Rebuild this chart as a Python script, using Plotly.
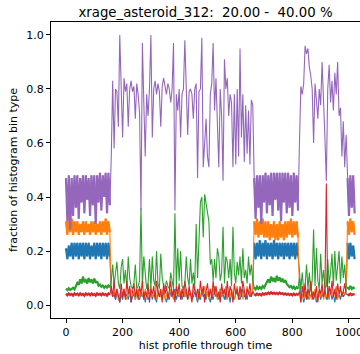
import plotly.graph_objects as go

# ---- data (hist profile index sampled every 5 profiles) ----
step = 5

purple_A = [0.47,0.31,0.48,0.28,0.47,0.33,0.48,0.36, 0.48,0.32,0.47,0.38,0.48,0.34,0.48,0.39,
            0.47,0.33,0.48,0.37,0.48,0.30,0.48,0.38, 0.49,0.35,0.48,0.40,0.49,0.34,0.49,0.37]
orange_A = [0.31,0.26,0.33,0.27,0.32,0.26,0.31,0.27, 0.31,0.26,0.30,0.27,0.31,0.26,0.31,0.27,
            0.30,0.26,0.31,0.27,0.31,0.26,0.30,0.27, 0.31,0.26,0.31,0.27,0.32,0.26,0.31,0.27]
blue_A = [0.21,0.17,0.22,0.18,0.23,0.17,0.23,0.18, 0.23,0.17,0.23,0.18,0.23,0.17,0.23,0.18,
          0.23,0.17,0.22,0.18,0.23,0.17,0.23,0.18, 0.23,0.17,0.23,0.18,0.23,0.17,0.23,0.18]
green_A = [0.060,0.055,0.062,0.056,0.060,0.064,0.058,0.070, 0.082,0.075,0.095,0.080,0.105,0.085,0.092,0.080,
           0.100,0.085,0.094,0.080,0.098,0.082,0.088,0.072, 0.076,0.068,0.072,0.064,0.070,0.065,0.072,0.066]
red_A = [0.042,0.036,0.043,0.037,0.041,0.035,0.043,0.038, 0.042,0.036,0.043,0.037,0.041,0.035,0.043,0.038,
         0.042,0.036,0.043,0.037,0.041,0.035,0.043,0.038, 0.042,0.036,0.043,0.037,0.041,0.035,0.043,0.038]

purple_B = [0.55,0.83,0.58,0.80,0.79,0.66,1.00,0.80,0.62,0.84,
            0.79,0.82,0.66,0.80,0.83,0.79,0.81,0.69,0.82,0.78,
            0.71,0.35,0.97,0.75,0.55,0.78,0.70,0.80,1.00,0.62,
            0.80,0.83,0.78,0.82,0.79,0.66,0.81,0.84,0.80,0.78,
            0.82,0.80,0.75,0.80,0.97,0.35,0.78,0.72,0.80,0.62,
            0.78,0.80,0.98,0.82,0.63,0.79,0.80,0.78,0.69,0.80,
            0.82,0.47,0.79,0.80,0.99,0.51,0.62,0.69,0.55,0.51,
            0.78,0.82,0.97,0.72,0.84,0.62,0.51,0.80,0.70,0.46,
            0.91,0.80,0.84,0.70,0.78,0.75,0.51,0.78,0.52,0.80,
            0.55,0.95,0.62,0.78,0.53,0.74,0.56,0.72,0.52,0.76,
            0.74]
green_B = [0.09,0.15,0.07,0.12,0.16,0.08,0.06,0.14,0.17,0.08,
           0.13,0.06,0.18,0.10,0.07,0.06,0.08,0.15,0.06,0.07,
           0.09,0.36,0.07,0.18,0.12,0.06,0.08,0.17,0.06,0.18,
           0.09,0.07,0.20,0.08,0.06,0.19,0.10,0.07,0.06,0.09,
           0.07,0.06,0.12,0.08,0.06,0.34,0.07,0.21,0.09,0.20,
           0.07,0.06,0.08,0.18,0.10,0.07,0.17,0.08,0.12,0.07,
           0.30,0.10,0.22,0.38,0.40,0.25,0.41,0.38,0.34,0.31,
           0.15,0.17,0.09,0.17,0.10,0.21,0.18,0.09,0.12,0.29,
           0.08,0.18,0.16,0.10,0.17,0.07,0.29,0.12,0.08,0.16,
           0.11,0.18,0.08,0.21,0.10,0.13,0.08,0.18,0.11,0.15,
           0.09]
red_B = [0.07,0.03,0.09,0.02,0.06,0.04,0.01,0.08,0.03,0.06,0.02,0.09,0.04,0.07,0.01,0.05,0.08,0.03,0.06,0.02,
         0.07,0.04,0.09,0.02,0.05,0.03,0.08,0.01,0.06,0.04,0.07,0.02,0.09,0.05,0.03,0.06,0.01,0.08,0.04,0.07,
         0.02,0.05,0.09,0.03,0.06,0.01,0.07,0.04,0.08,0.02,0.06,0.03,0.09,0.05,0.02,0.07,0.04,0.01,0.08,0.05,
         0.03,0.06,0.02,0.09,0.04,0.07,0.01,0.05,0.08,0.03,0.06,0.02,0.09,0.04,0.07,0.03,0.05,0.01,0.08,0.04,
         0.06,0.02,0.09,0.03,0.07,0.05,0.01,0.08,0.04,0.06,0.02,0.07,0.03,0.09,0.05,0.02,0.06,0.04,0.08,0.03,0.05]
orange_B = [0.06,0.04,0.05,0.03,0.06,0.02,0.04,0.05,0.03,0.06,0.04,0.02,0.05,0.03,0.06,0.04,0.05,0.02,0.04,0.06,
            0.03,0.05,0.04,0.02,0.06,0.03,0.05,0.04,0.07,0.03,0.04,0.05,0.02,0.06,0.04,0.03,0.05,0.06,0.02,0.04,
            0.05,0.03,0.06,0.04,0.02,0.05,0.04,0.06,0.03,0.05,0.04,0.07,0.03,0.05,0.02,0.06,0.04,0.03,0.05,0.07,
            0.04,0.02,0.06,0.03,0.05,0.04,0.07,0.03,0.05,0.02,0.06,0.04,0.03,0.07,0.05,0.02,0.04,0.06,0.03,0.05,
            0.04,0.07,0.02,0.05,0.03,0.06,0.04,0.02,0.05,0.07,0.03,0.04,0.06,0.02,0.05,0.03,0.07,0.04,0.05,0.03,0.06]
blue_B = [0.05,0.03,0.04,0.02,0.05,0.03,0.01,0.04,0.02,0.05,0.03,0.04,0.02,0.05,0.01,0.03,0.04,0.02,0.05,0.03,
          0.02,0.04,0.03,0.05,0.01,0.04,0.02,0.03,0.05,0.02,0.04,0.03,0.01,0.05,0.03,0.04,0.02,0.05,0.03,0.01,
          0.04,0.02,0.05,0.03,0.04,0.06,0.02,0.04,0.03,0.05,0.02,0.04,0.03,0.06,0.02,0.04,0.05,0.02,0.03,0.05,
          0.03,0.01,0.04,0.02,0.05,0.03,0.04,0.02,0.05,0.03,0.01,0.04,0.02,0.05,0.03,0.04,0.02,0.06,0.03,0.04,
          0.02,0.05,0.03,0.04,0.01,0.05,0.03,0.02,0.04,0.05,0.03,0.02,0.04,0.06,0.03,0.04,0.02,0.05,0.03,0.04,0.05]

purple_C = [0.47,0.32,0.48,0.36,0.48,0.30,0.48,0.38, 0.49,0.34,0.48,0.37,0.49,0.33,0.49,0.39,
            0.49,0.35,0.49,0.31,0.49,0.38,0.49,0.34, 0.49,0.36,0.48,0.33,0.49,0.38,0.48,0.35]
orange_C = [0.31,0.26,0.32,0.25,0.31,0.26,0.32,0.25, 0.31,0.25,0.31,0.24,0.30,0.25,0.31,0.24,
            0.30,0.24,0.31,0.25,0.30,0.24,0.31,0.25, 0.31,0.26,0.32,0.25,0.31,0.26,0.31,0.25]
blue_C = [0.23,0.17,0.23,0.18,0.24,0.17,0.23,0.18, 0.24,0.17,0.23,0.18,0.23,0.17,0.24,0.18,
          0.23,0.17,0.23,0.18,0.23,0.17,0.23,0.18, 0.23,0.17,0.23,0.18,0.23,0.17,0.23,0.18]
green_C = [0.065,0.058,0.068,0.060,0.066,0.060,0.070,0.064, 0.075,0.085,0.095,0.082,0.105,0.088,0.100,0.085,
           0.108,0.090,0.102,0.086,0.098,0.084,0.092,0.078, 0.072,0.066,0.070,0.062,0.068,0.060,0.066,0.060]
red_C = [0.040,0.036,0.042,0.037,0.041,0.036,0.043,0.038, 0.044,0.040,0.046,0.041,0.047,0.042,0.046,0.041,
         0.045,0.040,0.046,0.041,0.044,0.039,0.043,0.038, 0.042,0.037,0.041,0.036,0.042,0.037,0.041,0.036]

purple_D = [0.60,0.81,0.78,0.82,0.96,0.93,0.95,0.88,0.85,0.80,
            0.60,0.82,0.76,0.69,0.80,0.74,0.90,0.78,0.62,0.46,
            0.80,0.89,0.75,0.83,0.72,0.86,0.78,0.90,0.70,0.73,
            0.55,0.68,0.51,0.63]
green_D = [0.10,0.06,0.12,0.05,0.07,0.15,0.06,0.12,0.05,0.09,
           0.28,0.07,0.21,0.09,0.06,0.19,0.08,0.13,0.06,0.07,
           0.17,0.08,0.12,0.19,0.07,0.20,0.09,0.14,0.20,0.08,
           0.18,0.10,0.15,0.07]
red_D = [0.05,0.01,0.07,0.03,0.08,0.02,0.06,0.04,0.09,0.02,
         0.05,0.03,0.07,0.01,0.06,0.04,0.08,0.03,0.05,0.45,
         0.02,0.07,0.04,0.09,0.03,0.06,0.02,0.08,0.04,0.07,
         0.03,0.05,0.08,0.04]
orange_D = [0.06,0.01,0.04,0.02,0.05,0.03,0.06,0.02,0.04,0.05,
            0.03,0.06,0.02,0.04,0.05,0.03,0.07,0.02,0.04,0.03,
            0.05,0.02,0.06,0.04,0.03,0.05,0.07,0.02,0.04,0.06,
            0.03,0.05,0.04,0.06]
blue_D = [0.13,0.02,0.04,0.01,0.03,0.05,0.02,0.04,0.03,0.05,
          0.02,0.04,0.01,0.03,0.05,0.02,0.04,0.03,0.06,0.02,
          0.04,0.03,0.05,0.02,0.04,0.01,0.05,0.03,0.04,0.02,
          0.05,0.03,0.04,0.05]

purple_E = [0.47,0.33,0.48,0.36,0.48,0.34]
orange_E = [0.31,0.26,0.32,0.27,0.31,0.26]
blue_E = [0.23,0.17,0.23,0.18,0.22,0.17]
green_E = [0.065,0.060,0.070,0.060,0.065,0.060]
red_E = [0.040,0.036,0.042,0.037,0.040,0.038]

blue = blue_A + blue_B + blue_C + blue_D + blue_E
orange = orange_A + orange_B + orange_C + orange_D + orange_E
green = green_A + green_B + green_C + green_D + green_E
red = red_A + red_B + red_C + red_D + red_E
purple = purple_A + purple_B + purple_C + purple_D + purple_E

n = len(purple)
assert all(len(s) == n for s in (blue, orange, green, red)), [len(s) for s in (blue, orange, green, red, purple)]
profile = [i * step for i in range(n)]

# index ranges of the steady (densely oscillating) phases A, C, E
lA, lB, lC, lD = len(purple_A), len(purple_B), len(purple_C), len(purple_D)
band_ranges = [(0, lA), (lA + lB, lA + lB + lC), (lA + lB + lC + lD, n)]

x_ticks = [0, 200, 400, 600, 800, 1000]
y_ticks = [0.0, 0.2, 0.4, 0.6, 0.8, 1.0]
colors = ["#1f77b4", "#ff7f0e", "#2ca02c", "#d62728", "#9467bd"]

fig = go.Figure()
for s, c in zip([blue, orange, green, red, purple], colors):
    fig.add_trace(go.Scatter(x=profile, y=s, mode="lines",
                             line=dict(color=c, width=1.1), showlegend=False))
    for a, b in band_ranges:
        fig.add_trace(go.Scatter(x=profile[a:b], y=s[a:b], mode="lines",
                                 line=dict(color=c, width=2.2), showlegend=False))

font = "DejaVu Sans, Verdana, sans-serif"
fig.update_layout(
    width=360, height=354,
    margin=dict(l=51, r=0, t=22, b=36, autoexpand=False),
    paper_bgcolor="white", plot_bgcolor="white",
    font=dict(family=font, size=11, color="black"),
    title=dict(text="xrage_asteroid_312:\u00a0\u00a020.00\u00a0-\u00a0\u00a040.00\u00a0%",
               x=0.5, xref="paper", xanchor="center",
               y=1 - 12.5 / 354, yref="container", yanchor="middle",
               automargin=False,
               font=dict(family=font, size=13.3, color="black")),
    xaxis=dict(range=[-53, 1039], tickvals=x_ticks, ticks="outside", ticklen=4,
               tickwidth=1, tickcolor="black", showline=True, linecolor="black",
               linewidth=1, mirror=True, showgrid=False, zeroline=False,
               automargin=False, ticklabeloverflow="allow",
               title=dict(text="hist profile through time", standoff=3,
                          font=dict(size=11))),
    yaxis=dict(range=[-0.048, 1.048], tickvals=y_ticks, tickformat=".1f",
               ticks="outside", ticklen=4, tickwidth=1, tickcolor="black",
               showline=True, linecolor="black", linewidth=1, mirror=False,
               showgrid=False, zeroline=False, automargin=False,
               title=dict(text="fraction of histogram bin type", standoff=6,
                          font=dict(size=11))),
)

fig.write_html("out.html",
               config={"displayModeBar": False, "staticPlot": True},
               post_script="document.body.style.margin='0';document.body.style.overflow='hidden';")
